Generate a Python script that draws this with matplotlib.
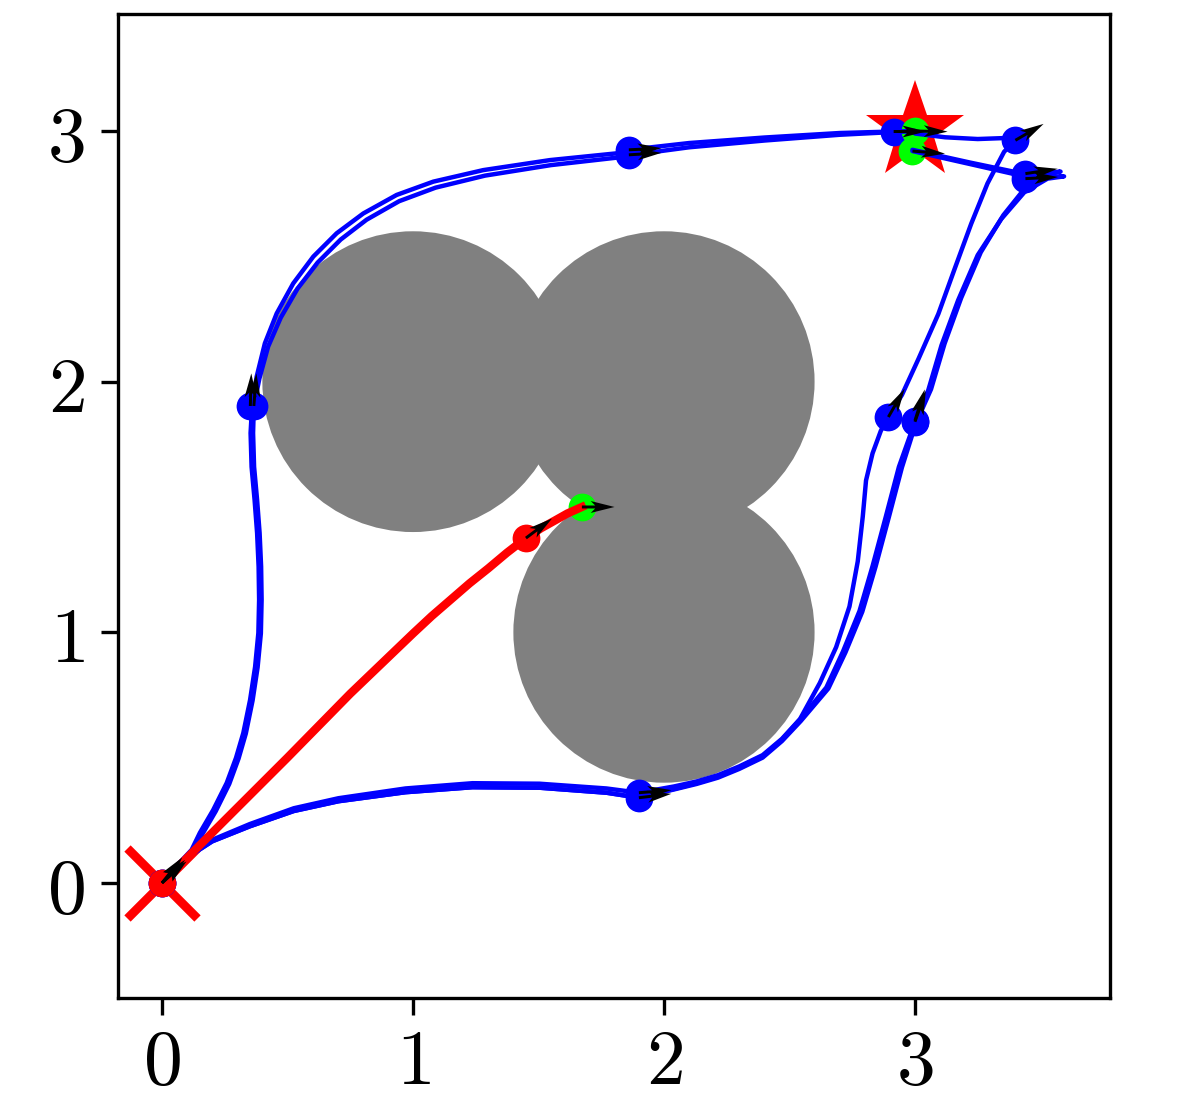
import matplotlib.pyplot as plt
from matplotlib.patches import Circle

plt.rcParams['mathtext.fontset'] = 'cm'

# obstacles (centre x, centre y, radius)
obs_x = [1.0, 2.0, 2.0]
obs_y = [2.0, 2.0, 1.0]
obs_r = [0.6, 0.6, 0.6]

start_xy = [0.0, 0.0]
goal_xy = [3.0, 3.0]

tick_vals = [0, 1, 2, 3]
tick_labels = ['$0$', '$1$', '$2$', '$3$']

# blue trajectories, upper route (two runs)
up_a_x = [0.0, 0.06, 0.118, 0.151, 0.204, 0.258, 0.295, 0.324, 0.351, 0.371, 0.384, 0.387, 0.385,
          0.379, 0.369, 0.357, 0.353, 0.359, 0.377, 0.410, 0.457, 0.523, 0.603, 0.696, 0.802, 0.935,
          1.081, 1.280, 1.546, 1.812, 1.86, 2.1, 2.4, 2.7, 2.915, 3.0]
up_a_y = [0.0, 0.07, 0.132, 0.2, 0.291, 0.399, 0.499, 0.598, 0.73, 0.862, 0.997, 1.13, 1.262,
          1.396, 1.528, 1.66, 1.795, 1.903, 2.019, 2.153, 2.272, 2.392, 2.499, 2.592, 2.671, 2.745,
          2.798, 2.844, 2.884, 2.911, 2.925, 2.952, 2.974, 2.992, 2.998, 3.0]
up_b_x = [0.0, 0.065, 0.126, 0.161, 0.214, 0.268, 0.305, 0.334, 0.361, 0.381, 0.394, 0.397, 0.395,
          0.389, 0.379, 0.367, 0.363, 0.366, 0.388, 0.423, 0.473, 0.54, 0.62, 0.712, 0.815, 0.945,
          1.09, 1.287, 1.55, 1.814, 1.86, 2.1, 2.4, 2.7, 2.915, 3.0]
up_b_y = [0.0, 0.068, 0.128, 0.195, 0.286, 0.395, 0.496, 0.596, 0.728, 0.86, 0.996, 1.13, 1.262,
          1.396, 1.528, 1.66, 1.795, 1.903, 2.012, 2.14, 2.255, 2.371, 2.475, 2.567, 2.646, 2.72,
          2.774, 2.822, 2.864, 2.894, 2.903, 2.935, 2.962, 2.985, 2.996, 3.0]

# blue trajectories, lower route (three runs)
low_a_x = [0.0, 0.05, 0.12, 0.2, 0.35, 0.525, 0.703, 0.97, 1.237, 1.504, 1.771, 1.90, 2.04, 2.13,
           2.215, 2.30, 2.393, 2.47, 2.542, 2.621, 2.686, 2.739, 2.772, 2.792, 2.805, 2.831, 2.864,
           2.894, 2.948, 3.014, 3.093, 3.158, 3.224, 3.289, 3.355, 3.40, 3.36, 3.25, 3.12, 3.0]
low_a_y = [0.0, 0.058, 0.118, 0.172, 0.235, 0.298, 0.338, 0.377, 0.398, 0.396, 0.377, 0.36, 0.385, 0.405,
           0.43, 0.465, 0.51, 0.575, 0.654, 0.798, 0.941, 1.103, 1.283, 1.462, 1.606, 1.714, 1.804,
           1.859, 1.947, 2.091, 2.270, 2.450, 2.630, 2.791, 2.917, 2.963, 2.972, 2.968, 2.975, 2.99]
low_b_x = [0.0, 0.05, 0.12, 0.2, 0.35, 0.525, 0.703, 0.97, 1.237, 1.504, 1.771, 1.90, 2.04, 2.13,
           2.215, 2.30, 2.393, 2.47, 2.542, 2.647, 2.713, 2.779, 2.831, 2.884, 2.936, 3.0, 3.053,
           3.106, 3.172, 3.250, 3.343, 3.436, 3.528, 3.594, 3.52, 3.44, 3.22, 2.99]
low_b_y = [0.0, 0.057, 0.114, 0.166, 0.226, 0.287, 0.326, 0.362, 0.382, 0.38, 0.36, 0.34, 0.375, 0.398,
           0.424, 0.46, 0.506, 0.572, 0.652, 0.780, 0.923, 1.085, 1.264, 1.462, 1.660, 1.84, 1.966,
           2.146, 2.325, 2.505, 2.648, 2.756, 2.810, 2.819, 2.818, 2.818, 2.868, 2.92]
low_c_x = [0.0, 0.05, 0.12, 0.2, 0.35, 0.525, 0.703, 0.97, 1.237, 1.504, 1.771, 1.90, 2.04, 2.13,
           2.215, 2.30, 2.393, 2.47, 2.545, 2.655, 2.723, 2.79, 2.843, 2.896, 2.948, 3.004, 3.064,
           3.118, 3.184, 3.262, 3.352, 3.44, 3.525, 3.58, 3.52, 3.44, 3.22, 2.99]
low_c_y = [0.0, 0.057, 0.114, 0.166, 0.226, 0.287, 0.326, 0.362, 0.382, 0.38, 0.36, 0.34, 0.373, 0.395,
           0.42, 0.455, 0.5, 0.566, 0.646, 0.776, 0.92, 1.082, 1.262, 1.46, 1.658, 1.835, 1.97,
           2.152, 2.334, 2.516, 2.664, 2.774, 2.828, 2.838, 2.832, 2.828, 2.874, 2.925]

# red trajectory
red_x = [0.0, 0.25, 0.5, 0.75, 1.0, 1.075, 1.15, 1.225, 1.3, 1.375, 1.45, 1.51, 1.56, 1.615, 1.673]
red_y = [0.0, 0.25, 0.5, 0.755, 0.995, 1.065, 1.13, 1.195, 1.255, 1.318, 1.376, 1.415, 1.443, 1.474, 1.5]

# intermediate states (position + velocity direction)
blue_pt_x = [0.0, 0.0, 0.352, 0.366, 1.86, 1.86, 2.915, 1.90, 1.90, 2.894, 3.0, 3.0, 3.40, 3.44, 3.44]
blue_pt_y = [0.0, 0.0, 1.903, 1.903, 2.925, 2.905, 2.998, 0.36, 0.34, 1.859, 1.845, 1.84, 2.963, 2.83, 2.81]
blue_pt_u = [0.62, 0.75, 0.03, 0.08, 1.0, 1.0, 1.0, 1.0, 1.0, 0.5, 0.3, 0.33, 0.86, 1.0, 1.0]
blue_pt_v = [0.78, 0.66, 1.0, 1.0, 0.05, 0.06, 0.0, 0.08, 0.12, 0.87, 0.95, 0.94, 0.5, 0.15, 0.05]

red_pt_x = [0.0, 1.45]
red_pt_y = [0.0, 1.376]
red_pt_u = [0.7, 0.8]
red_pt_v = [0.7, 0.6]

green_pt_x = [3.0, 2.99, 1.673]
green_pt_y = [3.0, 2.92, 1.5]
green_pt_u = [1.0, 1.0, 1.0]
green_pt_v = [-0.02, -0.08, 0.0]

arrow_len = 0.13


def draw_arrows(ax, xs, ys, us, vs):
    norm = [(u * u + v * v) ** 0.5 for u, v in zip(us, vs)]
    uu = [arrow_len * u / n for u, n in zip(us, norm)]
    vv = [arrow_len * v / n for v, n in zip(vs, norm)]
    ax.quiver(xs, ys, uu, vv, angles='xy', scale_units='xy', scale=1, color='black',
              width=0.003, headwidth=4, headlength=8, headaxislength=6.5, zorder=6)


fig = plt.figure(figsize=(5.98, 5.495), dpi=200)
ax = fig.add_axes([0.0987, 0.0919, 0.8294, 0.8954])

for cx, cy, r in zip(obs_x, obs_y, obs_r):
    ax.add_patch(Circle((cx, cy), r, color='gray', zorder=1, lw=0))

ax.plot(goal_xy[0], goal_xy[1], marker='*', color='red', markersize=37, mew=0, zorder=2)
ax.plot(start_xy[0], start_xy[1], marker='x', color='red', markersize=25, mew=3.2, zorder=2)

# state dots sit under the trajectory lines
ax.plot(blue_pt_x, blue_pt_y, 'o', color='blue', markersize=10, mew=0, zorder=3)
ax.plot(green_pt_x, green_pt_y, 'o', color='#00ff00', markersize=10, mew=0, zorder=3)
ax.plot(red_pt_x, red_pt_y, 'o', color='red', markersize=10, mew=0, zorder=3.5)

for xs, ys in [(up_a_x, up_a_y), (up_b_x, up_b_y), (low_a_x, low_a_y),
               (low_b_x, low_b_y), (low_c_x, low_c_y)]:
    ax.plot(xs, ys, color='blue', lw=1.6, zorder=4, solid_joinstyle='round', solid_capstyle='round')
ax.plot(red_x, red_y, color='red', lw=3.0, zorder=5, solid_joinstyle='round')

draw_arrows(ax, blue_pt_x, blue_pt_y, blue_pt_u, blue_pt_v)
draw_arrows(ax, red_pt_x, red_pt_y, red_pt_u, red_pt_v)
draw_arrows(ax, green_pt_x, green_pt_y, green_pt_u, green_pt_v)

ax.set_xlim(-0.175, 3.777)
ax.set_ylim(-0.459, 3.467)
ax.set_xticks(tick_vals)
ax.set_xticklabels(tick_labels)
ax.set_yticks(tick_vals)
ax.set_yticklabels(tick_labels)
ax.tick_params(labelsize=28, length=6, width=1.2, pad=6)
ax.tick_params(axis='x', pad=3.5)
for sp in ax.spines.values():
    sp.set_linewidth(1.2)

plt.savefig("out.png", dpi=200)
